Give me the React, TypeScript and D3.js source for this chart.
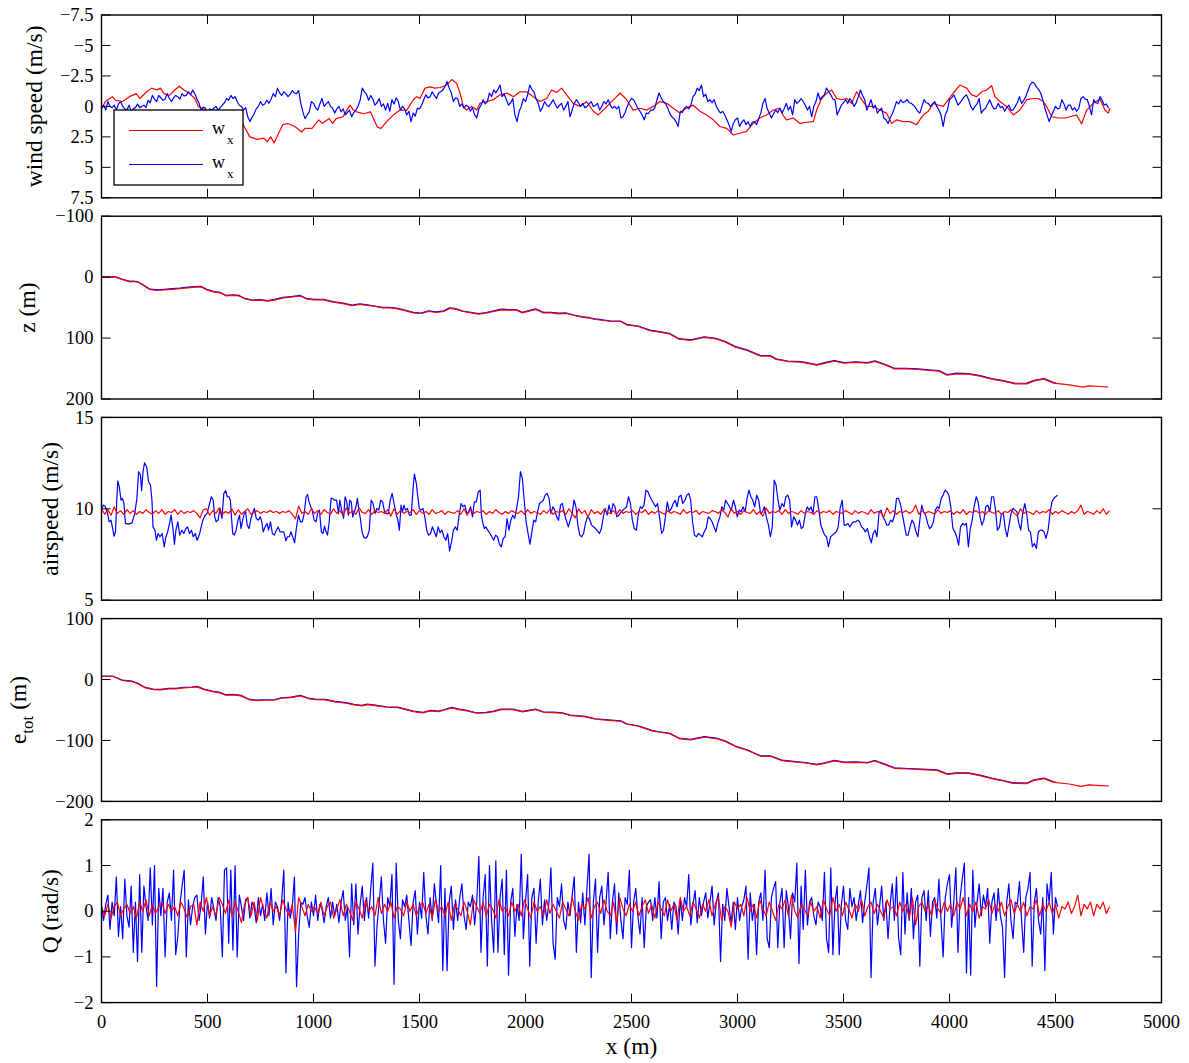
import React from 'react';
import * as d3 from 'd3';

type Pt = [number, number];

// ---------- axes ----------
const xTicks = [0, 500, 1000, 1500, 2000, 2500, 3000, 3500, 4000, 4500, 5000];
const windTicks = [-7.5, -5, -2.5, 0, 2.5, 5, 7.5];
const zTicks = [-100, 0, 100, 200];
const airTicks = [5, 10, 15];
const eTicks = [-200, -100, 0, 100];
const qTicks = [-2, -1, 0, 1, 2];

// ---------- wind speed (m/s) ----------
const windRed: Pt[] = [
  [2,0.15],[18,-0.4],[51,-0.8],[67,-0.5],[99,-0.4],[132,-0.8],[164,-1.05],[181,-0.65],[213,-1.2],[237,-1.5],
  [262,-1.35],[278,-1.5],[294,-1.05],[319,-0.9],[343,-1.3],[367,-1.65],[392,-1.3],[416,-1.05],[440,-0.65],[457,0],
  [489,0.3],[520,0.6],[580,0.9],[640,1.3],[668,1.5],[700,2.5],[733,2.7],[765,2.6],[782,2.9],[798,2.5],
  [814,3.0],[830,2.4],[855,1.5],[879,1.4],[912,1.65],[944,2.1],[960,1.8],[993,1.8],[1025,1.1],[1041,1.4],
  [1074,1.0],[1090,1.4],[1107,1.0],[1139,0.85],[1172,-0.1],[1188,0.3],[1204,0.45],[1236,0.6],[1269,0.45],[1301,1.7],
  [1318,1.8],[1345,1.25],[1377,0.7],[1408,0.3],[1440,0.3],[1471,-0.55],[1487,-0.8],[1502,-0.65],[1526,-1.5],[1550,-1.6],
  [1573,-1.5],[1597,-1.55],[1628,-1.75],[1652,-2.2],[1675,-1.9],[1691,-1.1],[1707,0],[1722,0.3],[1746,0],[1770,0.3],
  [1785,-0.25],[1817,-0.4],[1848,-0.55],[1880,-0.95],[1911,-1.1],[1943,-0.8],[1974,-1.2],[2005,-1.2],[2037,-0.8],[2068,-0.4],
  [2100,-0.65],[2123,-1.35],[2147,-1.15],[2170,-1.5],[2194,-0.95],[2225,-0.25],[2257,0],[2288,-0.4],[2320,0.4],[2343,0.7],
  [2367,0.3],[2398,-0.25],[2430,-0.8],[2446,-1.1],[2477,-0.55],[2508,0.3],[2540,0.15],[2571,0.3],[2603,0],[2634,-0.4],
  [2666,-0.25],[2697,0.15],[2728,0.55],[2744,0.3],[2776,0],[2791,-0.1],[2823,0.4],[2854,0.7],[2886,1.1],[2917,1.65],
  [2949,1.8],[2980,2.35],[3011,2.2],[3043,2.05],[3074,1.4],[3106,0.95],[3137,0.7],[3169,0.3],[3200,0.15],[3216,0.75],
  [3232,1.1],[3263,0.95],[3295,1.4],[3326,1.3],[3358,1.25],[3373,0.3],[3397,-0.65],[3421,-1.1],[3444,-1.35],[3468,-0.65],
  [3491,-0.55],[3515,-0.65],[3538,-0.25],[3562,-1.2],[3586,-0.55],[3609,0],[3641,0],[3672,0.3],[3703,0.55],[3727,1.4],
  [3751,1.1],[3782,1.25],[3813,1.25],[3845,1.5],[3876,0.7],[3900,0.4],[3924,-0.25],[3947,-0.1],[3971,0],[3994,-0.55],
  [4018,-1.1],[4049,-1.75],[4081,-1.5],[4104,-0.95],[4128,-0.8],[4152,-1.2],[4175,-1.35],[4199,-1.7],[4214,-0.8],[4238,-0.4],
  [4269,0],[4301,0.7],[4332,0.3],[4364,-0.55],[4395,-0.65],[4419,-0.65],[4442,-0.4],[4458,0],[4482,0.85],[4513,0.95],
  [4545,0.95],[4568,0.85],[4600,0.7],[4623,1.45],[4647,0.3],[4678,-0.25],[4710,-0.6],[4733,0.3],[4749,0.55],[4757,0.15],
];

// blue wind, sampled every 10 m
const windBlueStep = 10;
const windBlueValues = [
  0.15,-0.1,0.3,-0.4,0.0,0.1,-0.1,0.3,-0.2,-0.4,
  0.0,0.2,0.3,-0.1,0.4,0.2,0.1,-0.2,0.1,0.0,
  -0.1,0.1,-0.5,-0.3,-0.9,-0.6,-0.4,-0.9,-0.7,-0.5,
  -0.6,-1.05,-0.65,-0.4,-0.7,-0.9,-0.8,-0.6,-1.05,-0.85,
  -0.9,-1.2,-0.95,-1.35,-1.05,-0.6,-0.25,0.3,0.05,0.15,
  0.45,0.2,0.3,0.15,0.0,0.3,0.1,-0.1,-0.3,-0.65,
  -0.5,-0.9,-0.65,-0.8,-0.4,-0.1,0.0,0.3,0.1,0.85,
  1.25,0.9,0.6,0.2,0.0,-0.4,-0.1,-0.2,-0.5,-0.25,
  -0.6,-1.05,-0.8,-1.5,-1.1,-0.9,-1.2,-1.05,-0.8,-1.0,
  -1.3,-1.1,-1.05,-1.3,-0.25,0.45,1.0,0.7,0.45,-0.4,
  -0.25,0.1,0.3,-0.2,-0.65,0.0,-0.2,-0.4,0.0,0.15,
  0.55,0.2,0.0,0.45,0.2,0.7,0.5,0.3,0.85,0.5,
  0.3,0.0,-0.5,-1.5,-1.2,-1.0,-0.5,-0.9,-0.6,-0.1,
  -0.3,-0.65,0.0,-0.2,0.3,-0.25,0.4,-0.55,-0.2,-0.7,
  -0.4,0.3,0.0,0.2,0.7,0.4,1.25,0.55,0.8,0.15,
  0.2,-0.1,-0.55,-0.95,-0.7,-0.8,-1.2,-0.9,-0.65,-1.1,
  -1.2,-1.35,-1.6,-2.05,-1.5,-1.1,-0.4,-0.7,-0.65,0.0,
  -0.2,0.15,-0.1,0.0,0.4,0.1,0.7,0.95,0.2,-0.1,
  -0.55,-0.2,-0.4,-1.1,-0.8,-1.35,-1.1,-1.4,-1.75,-0.8,
  -1.0,-0.55,-0.1,-0.3,-0.65,0.7,1.25,0.4,0.0,-0.65,
  -0.4,-0.95,-1.75,-1.4,-1.2,-0.6,-0.25,0.4,0.1,-0.4,
  -0.1,0.0,-0.25,-0.55,-0.2,0.15,-0.1,-0.25,0.3,0.0,
  -0.4,0.85,0.3,-0.25,-0.55,-0.3,0.0,-0.25,0.1,0.0,
  -0.2,-0.4,0.0,-0.1,-0.25,0.3,0.0,-0.4,-0.2,-0.55,
  -0.1,0.15,0.0,0.2,0.0,0.95,0.85,0.5,0.0,-0.4,
  -0.65,-0.55,-0.2,0.15,0.4,0.7,1.1,0.55,0.6,0.3,
  0.3,0.15,-0.55,-1.1,-0.7,-0.4,-0.25,0.1,0.55,0.85,
  1.0,1.25,1.65,0.4,0.5,0.15,0.0,0.2,-0.1,-0.8,
  -1.0,-1.5,-1.3,-1.75,-0.8,-1.0,-0.4,-0.55,-0.3,-0.55,
  0.0,0.3,0.55,0.4,0.7,1.1,1.5,2.05,1.4,1.1,
  0.95,1.65,1.3,1.1,1.5,1.25,1.65,1.3,1.25,1.5,
  1.0,0.55,-0.25,-0.65,0.2,0.55,0.95,0.6,0.3,0.5,
  0.15,0.55,0.2,-0.25,0.3,0.0,0.7,-0.55,-0.25,-0.4,
  -0.65,-0.4,-0.1,0.3,0.0,0.85,0.0,-0.4,-1.1,-0.55,
  -0.8,-0.95,-1.5,-1.2,-0.95,-0.6,-0.55,0.7,0.3,-0.1,
  -0.3,-0.55,-0.25,-0.65,-0.4,0.0,-0.3,-0.8,-1.35,-0.9,
  -0.55,0.3,-0.1,-0.55,0.15,-0.1,0.55,0.3,0.15,0.95,
  1.1,1.4,0.95,0.6,0.15,-0.4,-0.2,-0.55,-0.3,-0.4,
  -0.55,-0.3,-0.25,-0.1,0.1,0.4,0.55,0.0,-0.55,-0.3,
  -0.25,0.0,-0.2,-0.4,0.0,0.3,0.7,1.65,0.7,0.3,
  -0.55,-0.7,-0.95,-0.55,-0.1,-0.3,-0.55,-0.8,-0.95,-0.55,
  0.0,0.3,0.0,-0.2,-0.65,0.55,0.3,0.15,-0.2,-0.55,
  -0.1,0.2,0.15,-0.25,0.1,0.0,0.4,0.1,-0.1,0.3,
  0.3,0.0,-0.3,-0.8,-0.25,-0.5,-0.8,-1.3,-1.75,-2.0,
  -1.9,-1.6,-1.4,-1.1,-0.55,0.15,0.7,1.25,0.8,0.4,
  0.0,0.2,0.15,-0.55,-0.2,0.3,-0.1,-0.1,0.3,0.1,
  0.4,0.15,-0.65,-0.8,-0.6,-0.55,0.0,0.7,-0.55,-0.3,
  -0.25,-0.8,-0.5,-0.1,-0.2,0.15,
];

// ---------- altitude z (m) ----------
const zRed: Pt[] = [
  [0,0],[45,0],[63,-0.5],[99,4],[135,7.7],[144,7.2],[171,8],[198,13.7],[225,20],[261,21.9],
  [297,21],[333,20],[370,19],[406,17.5],[442,16.4],[469,16],[496,20.8],[532,24.6],[559,25.7],[586,30.6],
  [622,30],[649,31],[676,35.6],[712,38.3],[748,37.8],[785,39.4],[821,37.2],[857,34],[893,32.8],[938,31],
  [965,35.6],[1001,37.2],[1046,37.2],[1092,41],[1146,43.8],[1182,47],[1218,44.9],[1254,46.5],[1290,48.2],[1326,50.4],
  [1362,50.4],[1398,52],[1435,55.3],[1471,58.6],[1507,59.7],[1543,56.4],[1579,58],[1615,56.4],[1642,51.5],[1669,52.5],
  [1705,56.4],[1742,58.6],[1778,60.8],[1814,59],[1850,56.4],[1886,53.6],[1922,54.2],[1958,54.2],[1985,58.6],[2012,56.4],
  [2048,53],[2084,58.6],[2120,58.6],[2156,60.2],[2193,59.7],[2229,63],[2265,65.5],[2301,67.5],[2330,69.5],[2404,72.8],
  [2449,72.8],[2477,78.3],[2532,81],[2587,88],[2633,90.3],[2678,93],[2724,101.8],[2779,104],[2843,99],[2898,101.3],
  [2944,106.7],[2990,115],[3045,120.4],[3109,129.7],[3155,129.7],[3182,135],[3237,138.5],[3301,139.6],[3374,144.5],[3420,140.7],
  [3457,138],[3503,141.2],[3558,140],[3613,141.2],[3649,138.5],[3695,144],[3741,150.5],[3796,150.5],[3851,151.6],[3915,153.3],
  [3951,154.3],[3988,161],[4034,158.7],[4089,159.3],[4144,162.6],[4199,167.5],[4254,170.8],[4309,175.1],[4364,175.1],[4400,170.2],
  [4446,167.5],[4492,174],[4565,176.8],[4629,180.6],[4657,178.4],[4712,179.5],[4749,180.6],
];

const zBlue: Pt[] = [
  [0,-0.5],[45,-0.5],[63,-1],[99,3.5],[135,7],[144,6.5],[171,7.5],[198,13],[225,19.2],[261,21],
  [297,20],[333,18.8],[370,18],[406,16.5],[442,15.5],[469,15],[496,20],[532,23.8],[559,24.8],[586,29.8],
  [622,29],[649,30],[676,35],[712,37.5],[748,37],[785,38.6],[821,36.2],[857,33],[893,31.8],[938,30],
  [965,34.8],[1001,36.4],[1046,36.5],[1092,40.2],[1146,43],[1182,46],[1218,43.8],[1254,45.5],[1290,47.4],[1326,49.6],
  [1362,49.5],[1398,51.2],[1435,54.5],[1471,57.8],[1507,59],[1543,55.4],[1579,57],[1615,55.4],[1642,50.5],[1669,51.6],
  [1705,55.6],[1742,57.8],[1778,60],[1814,58],[1850,55.4],[1886,52.6],[1922,53.2],[1958,53.4],[1985,57.8],[2012,55.4],
  [2048,52],[2084,57.8],[2120,57.8],[2156,59.2],[2193,58.8],[2229,62.2],[2265,64.6],[2301,66.6],[2330,68.6],[2404,72],
  [2449,72],[2477,77.4],[2532,80.2],[2587,87],[2633,89.4],[2678,92.2],[2724,101],[2779,103],[2843,97.8],[2898,100.4],
  [2944,105.8],[2990,114],[3045,119.4],[3109,128.6],[3155,128.6],[3182,134],[3237,137.6],[3301,138.6],[3374,143.5],[3420,139.6],
  [3457,137],[3503,140.2],[3558,139],[3613,140.2],[3649,137.4],[3695,143],[3741,149.6],[3796,149.5],[3851,150.6],[3915,152.4],
  [3951,153.3],[3988,160],[4034,157.6],[4089,158.4],[4144,161.6],[4199,166.6],[4254,169.8],[4309,174.2],[4364,174],[4400,169.2],
  [4446,166.5],[4492,173],[4501,173.5],
];

// ---------- airspeed (m/s) ----------
const airRedStep = 15;
const airRedValues = [
  10.0,9.7,9.95,9.65,10.1,9.75,9.9,9.7,9.95,9.75,
  9.9,9.7,9.85,9.75,9.95,9.8,9.7,9.9,9.75,9.95,
  9.7,9.85,9.8,9.95,9.7,9.9,9.75,9.85,9.8,9.9,
  9.75,9.5,9.95,10.0,9.65,9.9,9.75,10.05,9.7,9.85,
  9.75,10.0,9.65,9.95,9.7,9.85,10.0,9.7,9.8,9.9,
  9.75,9.85,9.8,9.9,9.8,9.85,9.75,9.85,9.8,9.9,
  9.7,9.45,10.15,9.75,9.85,9.7,10.0,9.75,9.9,9.7,
  9.95,9.8,9.7,10.0,9.75,9.9,9.65,10.05,9.75,9.9,
  9.7,10.05,9.8,9.75,9.95,9.7,9.9,9.8,9.85,9.75,
  9.95,9.6,10.0,9.7,9.9,9.75,9.85,9.8,9.95,9.7,
  9.9,9.75,9.85,9.7,9.95,9.75,9.8,9.9,9.7,9.85,
  9.8,9.75,9.9,9.7,10.0,9.65,9.95,9.75,9.85,9.8,
  9.9,9.7,9.85,9.75,9.95,9.8,9.7,9.85,9.75,9.9,
  9.8,9.75,9.9,9.7,9.95,9.75,9.85,9.8,9.7,9.9,
  9.75,9.95,9.7,9.85,9.8,9.9,9.7,10.0,9.75,9.5,
  10.0,9.75,9.9,9.55,9.95,9.75,9.85,9.7,9.95,9.8,
  9.75,9.9,9.7,9.95,9.75,9.85,9.8,9.9,9.7,9.85,
  9.8,9.95,9.7,9.85,9.75,9.9,9.8,9.7,9.9,9.75,
  9.85,9.8,9.7,9.95,9.75,9.85,9.8,9.9,9.7,9.85,
  9.8,9.75,9.9,9.85,9.75,9.95,9.8,9.55,10.0,9.75,
  9.85,9.7,9.9,9.8,9.75,9.95,9.7,9.85,9.6,10.05,
  9.75,9.85,9.8,9.9,9.7,9.95,9.75,9.85,9.8,9.7,
  9.9,9.75,9.85,9.8,9.7,9.9,9.75,9.85,9.8,9.9,
  9.7,9.85,9.8,9.75,9.9,9.8,9.7,9.9,9.75,9.85,
  9.8,9.7,9.95,9.75,9.85,9.8,9.55,10.05,9.75,9.9,
  9.7,9.85,9.8,9.9,9.75,9.85,10.2,9.7,9.9,9.75,
  9.85,9.8,9.7,9.95,9.75,9.85,9.8,9.9,9.7,9.85,
  9.75,9.95,9.7,9.85,9.8,9.9,9.75,9.85,9.7,9.9,
  9.8,9.75,9.9,9.7,9.85,9.8,9.95,9.75,9.6,10.0,
  9.75,9.85,9.8,9.7,9.9,9.75,9.85,9.8,9.95,9.7,
  9.85,9.75,9.9,9.8,9.7,9.85,9.75,9.9,10.2,9.7,
  9.85,9.8,9.7,9.9,9.75,10.0,9.7,9.9,
];

const airBlue: Pt[] = [
  [0,10.02],[9,10.2],[18,10.11],[27,9.84],[36,9.29],[45,9.38],[54,8.83],[59,8.5],[66,8.74],[72,10.47],
  [77,11.53],[84,11.2],[92,10.47],[99,10.57],[106,10.29],[113,9.2],[126,9.16],[144,9.23],[157,9.74],[167,10.57],
  [175,12.03],[184,11.84],[189,10.99],[196,12.03],[203,12.52],[213,12.3],[222,11.48],[231,11.3],[238,10.47],[243,9.01],
  [252,8.83],[259,8.28],[267,8.65],[276,8.47],[286,8.65],[296,7.92],[303,8.43],[312,8.74],[321,9.2],[328,9.65],
  [337,8.92],[344,8.07],[351,8.83],[360,9.29],[369,8.56],[379,8.83],[388,8.65],[398,8.92],[406,9.01],[415,8.65],
  [424,8.83],[433,8.47],[442,8.65],[451,8.28],[458,8.47],[465,8.74],[470,9.01],[478,9.38],[489,9.65],[498,9.74],
  [510,10.29],[518,10.66],[527,10.47],[534,9.56],[541,9.29],[550,9.38],[559,10.02],[568,9.47],[577,10.84],[586,10.99],
  [593,10.66],[601,10.66],[608,10.47],[613,9.56],[619,8.65],[626,8.56],[635,8.83],[644,9.38],[651,9.65],[658,8.92],
  [666,9.38],[673,9.74],[680,9.84],[687,9.11],[696,8.92],[705,9.47],[712,9.74],[721,10.02],[730,9.47],[740,9.38],
  [749,9.56],[756,9.29],[763,8.74],[772,9.01],[781,9.2],[788,8.83],[797,9.29],[806,8.65],[815,8.56],[824,8.8],
  [833,9.01],[842,8.74],[851,8.74],[860,8.74],[870,8.25],[877,8.47],[886,8.47],[893,8.74],[902,8.47],[911,8.14],
  [920,9.01],[929,9.65],[938,9.29],[947,9.29],[956,9.74],[965,10.66],[972,10.78],[979,10.38],[987,10.11],[994,9.93],
  [1003,9.38],[1012,9.29],[1019,9.74],[1028,9.93],[1037,8.74],[1045,8.65],[1052,9.05],[1059,8.74],[1066,8.56],[1074,9.29],
  [1083,10.57],[1090,10.57],[1099,10.47],[1109,10.47],[1118,9.74],[1124,10.47],[1133,9.93],[1142,9.47],[1149,10.66],[1157,10.38],
  [1164,9.65],[1171,10.47],[1178,10.38],[1185,9.56],[1193,9.84],[1200,10.11],[1207,10.57],[1214,9.93],[1221,9.47],[1229,8.74],
  [1238,8.43],[1245,8.38],[1254,8.47],[1263,8.83],[1272,10.47],[1281,10.29],[1290,9.74],[1299,10.02],[1308,9.93],[1317,10.47],
  [1326,10.38],[1335,9.84],[1344,9.74],[1353,9.74],[1362,10.47],[1371,10.84],[1380,10.29],[1389,9.74],[1398,9.38],[1405,8.83],
  [1413,10.2],[1420,9.84],[1427,10.2],[1434,9.93],[1443,10.02],[1452,9.65],[1461,9.65],[1471,11.3],[1476,11.9],[1485,11.39],
  [1492,10.66],[1499,10.02],[1507,9.93],[1516,10.02],[1525,9.56],[1534,8.83],[1543,8.56],[1552,8.65],[1561,9.01],[1570,8.74],
  [1579,8.47],[1588,9.01],[1597,8.69],[1606,8.83],[1615,8.47],[1624,8.28],[1633,8.65],[1642,7.7],[1651,8.19],[1660,8.83],
  [1669,9.01],[1678,8.83],[1687,9.65],[1696,10.29],[1705,10.11],[1714,10.2],[1723,9.74],[1732,9.84],[1741,10.11],[1750,9.56],
  [1759,10.38],[1768,10.38],[1777,10.93],[1786,11.02],[1792,9.65],[1799,9.2],[1806,8.92],[1813,9.01],[1822,8.83],[1832,8.65],
  [1840,8.5],[1850,8.28],[1859,8.56],[1868,8.47],[1877,8.07],[1886,7.92],[1895,8.38],[1904,8.47],[1913,9.47],[1922,8.83],
  [1931,9.38],[1940,9.65],[1949,9.47],[1958,10.02],[1967,10.66],[1976,12.03],[1985,11.66],[1994,10.47],[2003,9.29],[2012,8.65],
  [2021,8.07],[2030,8.74],[2039,9.38],[2048,9.29],[2057,9.84],[2066,10.29],[2075,10.38],[2084,10.47],[2093,10.75],[2102,10.84],
  [2111,10.57],[2120,9.74],[2129,10.11],[2138,9.93],[2147,9.56],[2156,9.38],[2165,10.2],[2174,10.29],[2183,9.74],[2192,9.38],
  [2202,9.01],[2211,9.38],[2220,9.74],[2229,10.47],[2238,10.11],[2247,9.11],[2256,8.56],[2265,8.47],[2274,8.65],[2283,9.2],
  [2292,9.56],[2301,9.47],[2312,9.11],[2330,8.92],[2349,8.65],[2358,8.92],[2367,9.56],[2376,10.02],[2385,9.65],[2394,10.2],
  [2404,9.74],[2413,10.29],[2422,10.11],[2431,9.56],[2440,9.65],[2459,9.93],[2477,10.11],[2486,10.66],[2495,10.29],[2504,9.38],
  [2513,8.92],[2523,8.83],[2532,9.65],[2541,10.11],[2550,10.02],[2559,10.2],[2568,11.02],[2578,10.93],[2587,10.66],[2596,10.47],
  [2605,10.29],[2614,10.11],[2623,10.29],[2633,9.47],[2642,8.65],[2651,8.83],[2660,9.56],[2669,10.38],[2678,9.84],[2688,10.02],
  [2697,10.29],[2706,10.47],[2715,10.11],[2724,10.66],[2733,10.75],[2742,10.29],[2752,10.47],[2761,10.75],[2770,10.84],[2779,10.47],
  [2788,9.29],[2797,8.56],[2807,8.47],[2816,8.65],[2825,8.56],[2834,8.47],[2843,8.74],[2852,8.92],[2862,9.56],[2871,9.47],
  [2880,9.29],[2889,9.01],[2898,8.74],[2907,9.2],[2917,9.56],[2926,10.11],[2935,9.93],[2944,10.47],[2953,10.29],[2962,10.11],
  [2971,9.93],[2981,10.47],[2990,10.11],[2999,9.56],[3008,9.93],[3017,9.84],[3026,10.11],[3036,9.84],[3045,10.57],[3054,11.02],
  [3063,10.66],[3072,10.47],[3081,10.11],[3091,10.75],[3100,10.47],[3109,9.74],[3118,9.84],[3127,10.11],[3136,9.56],[3146,9.11],
  [3155,8.47],[3164,9.01],[3173,11.57],[3182,11.3],[3191,10.47],[3200,9.93],[3210,10.29],[3219,10.11],[3228,10.66],[3237,10.75],
  [3246,10.47],[3255,9.01],[3265,9.56],[3274,9.38],[3283,9.11],[3292,9.38],[3301,8.92],[3310,9.01],[3320,9.74],[3329,10.11],
  [3338,9.93],[3347,10.11],[3356,9.74],[3365,10.66],[3374,10.66],[3384,9.93],[3393,9.11],[3402,8.83],[3411,8.56],[3420,8.47],
  [3429,7.92],[3439,8.47],[3448,8.56],[3457,8.65],[3466,8.74],[3475,9.01],[3484,10.02],[3494,10.47],[3503,9.11],[3512,9.11],
  [3521,9.2],[3530,9.01],[3539,9.2],[3549,9.29],[3558,9.29],[3567,9.38],[3576,9.29],[3585,9.01],[3594,8.92],[3603,8.74],
  [3613,8.92],[3622,8.47],[3631,8.14],[3640,8.65],[3649,8.83],[3658,8.47],[3668,9.84],[3677,9.93],[3686,9.56],[3695,9.38],
  [3704,9.11],[3713,9.11],[3722,9.38],[3731,9.29],[3741,9.65],[3750,10.57],[3759,10.57],[3768,10.29],[3777,9.74],[3787,9.11],
  [3796,8.56],[3805,8.56],[3814,9.01],[3823,9.38],[3832,9.2],[3842,8.74],[3851,8.47],[3860,9.38],[3869,10.2],[3878,9.84],
  [3887,9.65],[3897,9.2],[3906,8.92],[3915,9.01],[3924,9.29],[3933,9.93],[3942,10.11],[3951,10.02],[3961,10.57],[3970,10.75],
  [3979,11.02],[3988,10.93],[3997,10.75],[4006,10.11],[4016,8.92],[4025,8.74],[4034,8.47],[4043,8.01],[4052,9.01],[4062,9.2],
  [4071,9.11],[4080,9.2],[4089,7.92],[4098,8.92],[4107,9.38],[4116,10.11],[4126,10.66],[4135,10.38],[4144,9.56],[4153,9.11],
  [4162,9.38],[4171,10.11],[4181,10.2],[4190,9.84],[4199,10.66],[4208,10.66],[4217,9.93],[4226,8.83],[4236,9.01],[4245,9.74],
  [4254,9.74],[4263,8.92],[4272,8.47],[4281,9.11],[4290,9.74],[4300,10.02],[4309,9.93],[4318,9.84],[4327,9.2],[4336,8.83],
  [4345,9.74],[4355,10.29],[4364,9.74],[4373,8.83],[4382,8.74],[4391,7.92],[4400,8.1],[4410,7.83],[4419,8.74],[4428,8.83],
  [4437,8.83],[4446,8.74],[4455,8.38],[4465,8.83],[4474,9.74],[4483,10.38],[4492,10.57],[4501,10.66],[4510,10.75],
];

// ---------- total energy e_tot (m) ----------
const eRed: Pt[] = [
  [0,5],[54,5],[99,-1.6],[144,-3.3],[171,-7],[207,-13.7],[243,-16.4],[279,-17],[315,-15.3],[351,-15.3],
  [388,-13.7],[424,-13.1],[451,-12],[487,-17],[523,-19.7],[559,-21.9],[586,-25.7],[622,-25.2],[658,-26.8],[694,-32.9],
  [730,-34.5],[767,-34],[812,-34],[848,-30.7],[893,-29.6],[938,-26.8],[974,-31.2],[1010,-32.9],[1055,-33.4],[1101,-36.7],
  [1155,-38.9],[1191,-41.6],[1227,-43.3],[1254,-41.1],[1299,-43.3],[1344,-45.5],[1398,-46],[1435,-49.3],[1471,-52.6],[1516,-54.8],
  [1552,-51.5],[1588,-52.6],[1615,-50.4],[1651,-46.5],[1687,-49.3],[1723,-51.5],[1768,-55.3],[1814,-54.8],[1850,-52.6],[1886,-49.3],
  [1940,-49.3],[1985,-53.1],[2012,-51.5],[2048,-49.3],[2084,-53.7],[2129,-54.2],[2174,-55.3],[2211,-59.1],[2247,-60.2],[2283,-61.3],
  [2330,-65.2],[2404,-67.4],[2449,-68.5],[2477,-73.4],[2532,-76.7],[2596,-84.3],[2633,-86.5],[2678,-88.7],[2724,-96.9],[2779,-99.1],
  [2843,-94.7],[2907,-97.5],[2944,-101.9],[2990,-110],[3045,-116],[3109,-126],[3155,-126],[3210,-133],[3265,-135],[3320,-137],
  [3374,-140],[3411,-137.5],[3457,-133.6],[3503,-136.4],[3558,-135.8],[3613,-137],[3649,-133.6],[3695,-139.6],[3741,-145.7],[3805,-146.8],
  [3869,-147.9],[3942,-149],[3988,-155.5],[4034,-153.9],[4089,-153.9],[4144,-157.7],[4199,-162.6],[4254,-166.5],[4300,-170.3],[4364,-170.8],
  [4400,-165.4],[4446,-162.6],[4492,-168.7],[4565,-171.4],[4620,-175.2],[4657,-173],[4712,-174.1],[4752,-174.7],
];

const eBlue: Pt[] = [
  [0,5.5],[54,5.5],[99,-1],[144,-2.6],[171,-6.3],[207,-13],[243,-15.6],[279,-16.2],[315,-14.5],[351,-14.5],
  [388,-12.9],[424,-12.3],[451,-11.2],[487,-16.2],[523,-18.9],[559,-21.1],[586,-24.9],[622,-24.4],[658,-26],[694,-32],
  [730,-33.7],[767,-33.2],[812,-33.2],[848,-29.9],[893,-28.8],[938,-26],[974,-30.4],[1010,-32],[1055,-32.6],[1101,-35.9],
  [1155,-38],[1191,-40.8],[1227,-42.5],[1254,-40.3],[1299,-42.5],[1344,-44.7],[1398,-45.2],[1435,-48.5],[1471,-51.8],[1516,-54],
  [1552,-50.6],[1588,-51.8],[1615,-49.6],[1651,-45.6],[1687,-48.5],[1723,-50.7],[1768,-54.5],[1814,-54],[1850,-51.8],[1886,-48.4],
  [1940,-48.5],[1985,-52.3],[2012,-50.7],[2048,-48.4],[2084,-52.9],[2129,-53.4],[2174,-54.5],[2211,-58.3],[2247,-59.4],[2283,-60.5],
  [2330,-64.4],[2404,-66.6],[2449,-67.7],[2477,-72.6],[2532,-75.9],[2596,-83.5],[2633,-85.7],[2678,-87.9],[2724,-96],[2779,-98.2],
  [2843,-93.8],[2907,-96.7],[2944,-101],[2990,-109.2],[3045,-115.2],[3109,-125.2],[3155,-125.2],[3210,-132.2],[3265,-134.2],[3320,-136.2],
  [3374,-139.2],[3411,-136.6],[3457,-132.7],[3503,-135.6],[3558,-135],[3613,-136.2],[3649,-132.8],[3695,-138.8],[3741,-144.9],[3805,-146],
  [3869,-147.1],[3942,-148.2],[3988,-154.7],[4034,-153.1],[4089,-153.1],[4144,-156.9],[4199,-161.8],[4254,-165.7],[4300,-169.5],[4364,-170],
  [4400,-164.6],[4446,-161.8],[4492,-167.9],[4501,-168.2],
];

// ---------- pitch rate Q (rad/s) ----------
const qRedStep = 15;
const qRedValues = [
  0.1,-0.1,0.15,-0.15,0.1,0.2,-0.1,0.05,0.15,-0.05,
  0.1,-0.15,0.2,0.0,0.25,-0.1,0.15,-0.05,0.1,0.2,
  -0.05,0.15,0.0,0.1,-0.1,0.2,0.05,-0.15,0.1,0.15,
  -0.3,0.2,0.0,0.3,-0.1,0.1,-0.1,0.3,0.15,-0.05,
  0.25,-0.1,0.2,0.0,-0.25,0.15,0.3,-0.1,0.2,-0.2,
  0.3,0.05,-0.15,0.2,0.0,0.1,-0.1,0.25,0.05,-0.1,
  0.15,-0.45,0.3,0.1,-0.1,0.15,0.0,0.1,-0.05,0.2,
  -0.1,0.1,0.2,-0.15,0.05,0.25,-0.1,0.15,0.0,-0.2,
  0.2,0.05,-0.15,0.25,0.0,0.1,-0.1,0.3,-0.05,0.15,
  0.0,0.2,-0.15,0.1,0.05,-0.1,0.2,0.0,0.15,-0.1,
  0.1,0.2,-0.05,0.15,-0.15,0.25,0.0,0.1,-0.1,0.2,
  -0.2,0.15,0.05,-0.1,0.2,0.0,-0.3,0.25,0.1,-0.05,
  0.2,-0.1,0.15,0.05,-0.15,0.25,0.0,0.1,-0.1,0.2,
  0.0,0.15,-0.1,0.25,0.05,-0.15,0.2,0.0,0.1,-0.1,
  0.25,-0.05,0.15,0.0,-0.15,0.2,0.05,-0.1,0.3,0.0,
  -0.2,0.15,0.05,0.3,-0.15,0.1,0.2,-0.05,0.25,0.0,
  -0.1,0.2,-0.25,0.3,0.05,-0.1,0.15,0.0,0.2,-0.1,
  0.1,0.25,-0.05,0.15,-0.15,0.2,0.05,-0.1,0.25,0.0,
  0.15,-0.2,0.3,0.0,0.1,-0.1,0.2,0.05,-0.15,0.15,
  0.0,0.25,-0.1,0.15,0.3,-0.2,0.1,0.0,-0.35,0.2,
  0.05,0.15,-0.1,0.3,0.0,0.15,-0.15,0.25,0.05,-0.1,
  0.2,0.0,-0.2,0.15,0.05,0.25,-0.1,0.35,0.0,-0.15,
  0.15,0.05,-0.1,0.2,0.0,0.1,-0.15,0.25,0.05,-0.1,
  0.3,0.0,0.15,-0.1,0.2,0.05,-0.15,0.15,0.0,0.25,
  -0.1,0.1,0.2,-0.05,0.15,0.0,-0.15,0.25,0.05,0.1,
  -0.1,0.2,0.0,0.15,-0.15,0.3,-0.3,0.1,0.2,0.0,
  0.15,-0.1,0.25,0.05,-0.05,0.2,0.0,0.15,-0.1,0.2,
  0.05,0.3,-0.1,0.15,0.0,0.2,-0.15,0.1,0.05,0.25,
  -0.05,0.15,0.0,0.2,-0.1,0.1,0.25,-0.05,0.15,0.0,
  0.2,-0.1,0.1,0.05,0.25,-0.1,0.15,0.0,0.2,-0.05,
  0.15,-0.15,0.1,0.05,0.2,-0.05,0.1,0.35,-0.1,0.15,
  0.05,0.2,-0.1,0.15,0.05,0.2,-0.05,0.1,
];

const qBlueStep = 10;
const qBlueValues = [
  0.1,-0.2,0.15,0.35,-0.4,0.2,-0.1,0.75,-0.55,0.1,
  -0.6,0.7,-0.1,-0.35,0.55,-0.9,0.2,-1.1,0.8,-0.9,
  0.55,0.1,-0.2,0.95,-0.3,1.0,-1.65,0.5,-0.1,0.5,
  -1.0,0.2,0.4,-0.2,0.9,-0.95,-0.55,0.15,0.55,0.9,
  -1.0,0.25,-0.3,0.1,0.3,0.35,-0.2,0.15,0.75,-0.5,
  0.2,-0.15,0.3,0.05,-0.2,0.3,0.1,-1.0,0.9,0.95,
  -0.7,0.9,-0.85,1.0,-1.0,0.35,0.1,-0.2,0.25,0.3,
  -0.15,0.2,0.1,-0.25,0.3,-0.1,0.15,-0.2,0.4,-0.1,
  0.5,-0.3,0.2,0.1,-0.2,0.25,0.9,-1.35,0.2,-0.15,
  0.1,0.75,-1.65,-0.5,0.2,0.15,0.3,-0.1,-0.35,0.2,
  -0.1,0.35,-0.2,0.15,0.05,-0.25,0.1,0.3,-0.15,0.2,
  -0.1,0.15,-0.25,0.2,0.45,-0.2,0.1,-1.0,0.6,-0.3,
  0.6,-0.5,0.15,0.55,-0.2,0.3,-0.15,0.5,1.05,-1.2,
  -0.3,0.2,0.75,-0.2,-0.7,0.3,0.1,0.8,-1.6,1.05,
  -0.2,-0.6,0.25,0.1,0.35,-0.2,-0.75,0.2,0.45,-0.5,
  0.2,-0.15,0.85,-0.1,-0.5,0.3,-0.2,0.6,0.15,-0.25,
  1.0,-1.3,0.5,-1.3,0.2,0.55,-0.4,0.25,-0.2,0.3,
  0.6,-0.1,-0.4,0.2,0.1,0.35,-0.3,0.2,1.2,-0.9,
  0.3,0.8,-1.2,1.0,-0.2,-0.9,1.1,-0.9,0.3,0.7,
  -0.95,0.9,-1.4,0.2,0.5,-0.55,0.15,-0.2,1.25,-0.6,
  0.2,0.8,-1.2,0.3,0.5,-0.7,0.2,0.7,-0.3,0.25,
  -0.2,0.15,0.95,-0.7,-1.05,0.3,0.1,0.6,-0.2,-0.4,
  0.2,-0.1,0.35,0.75,-0.9,0.2,-0.25,0.4,-0.3,0.5,
  1.25,-1.45,0.2,0.7,-0.9,0.3,0.55,-0.3,0.2,0.85,
  -0.6,0.2,0.6,-0.5,0.4,-0.2,-0.6,0.3,0.15,0.9,
  -0.8,0.2,0.5,-0.1,-0.5,0.3,-0.8,0.1,0.2,0.25,
  -0.2,0.3,-0.15,0.65,-0.6,0.2,0.3,-0.2,0.15,-0.4,
  0.2,0.1,-0.5,0.25,-0.2,0.3,0.1,0.8,-0.3,0.15,
  0.45,-0.25,0.3,-0.1,0.2,0.4,-0.15,0.2,0.55,-0.3,
  0.2,0.4,-1.1,0.15,-0.2,0.5,0.1,-0.25,0.2,-0.4,
  0.3,-0.2,0.1,0.25,0.55,-1.05,0.4,-0.2,0.15,-0.95,
  0.2,0.4,-0.2,0.9,-0.6,-0.8,0.3,0.5,0.65,-0.8,
  0.2,0.5,-0.8,0.45,0.1,-0.6,0.4,0.2,1.05,-1.15,
  0.55,-0.4,0.9,-0.3,0.2,0.3,-0.1,-0.3,0.2,0.1,
  -0.2,0.85,-0.6,-0.9,0.95,-0.95,0.2,0.55,-0.95,0.15,
  0.55,-0.2,-0.4,0.5,0.1,0.3,-0.2,0.15,0.45,-0.25,
  0.2,0.55,0.95,-1.45,0.2,0.5,-0.3,0.1,0.55,-0.2,
  0.2,-0.6,0.15,0.6,-0.2,0.75,-0.6,-0.95,0.85,-0.5,
  0.4,-0.2,0.5,-0.6,0.2,0.35,-1.2,0.3,0.45,-0.2,
  0.45,-0.55,0.2,0.3,-0.15,0.7,-0.2,-1.0,0.3,0.6,
  0.8,-0.35,0.2,0.95,-0.9,0.3,0.7,1.05,-1.35,0.3,
  -1.4,0.9,-0.35,0.2,0.6,-0.1,0.35,0.1,0.5,-0.7,
  0.2,0.4,-0.2,0.5,-0.1,-0.35,-1.45,0.2,0.6,-0.2,
  -0.6,0.2,0.15,0.65,-0.2,-0.9,0.3,0.5,0.85,-1.2,
  0.2,0.5,-0.2,-0.5,0.3,-1.3,0.6,0.2,0.85,-0.5,
  0.3,0.1,
];

const windBlue: Pt[] = windBlueValues.map((v, i) => [i * windBlueStep, v]);
const airRed: Pt[] = airRedValues.map((v, i) => [i * airRedStep, v]);
const qRed: Pt[] = qRedValues.map((v, i) => [i * qRedStep, v]);
const qBlue: Pt[] = qBlueValues.map((v, i) => [i * qBlueStep, v]);

// ---------- layout ----------
const W = 1189;
const H = 1063;
const plotLeft = 101.5;
const plotRight = 1161.5;
const panelTop0 = 15;
const panelStep = 201.2;
const panelH = 182.8;
const tickLen = 9;
const RED = '#ff0000';
const BLUE = '#0000ff';
const FONT = '"Liberation Serif", "Times New Roman", Times, serif';
const tickFont = 18.5;
const labelFont = 23.5;

const fmt = (v: number) => (v < 0 ? '\u2212' + Math.abs(v) : String(v));

type Series = { data: Pt[]; color: string };
type Panel = {
  key: string;
  domain: [number, number];
  invert: boolean;
  ticks: number[];
  series: Series[];
  labelX: number;
  label: React.ReactNode;
};

const panels: Panel[] = [
  {
    key: 'wind', domain: [-7.5, 7.5], invert: true, ticks: windTicks,
    series: [{ data: windRed, color: RED }, { data: windBlue, color: BLUE }],
    labelX: 41.5, label: 'wind speed (m/s)',
  },
  {
    key: 'z', domain: [-100, 200], invert: true, ticks: zTicks,
    series: [{ data: zBlue, color: BLUE }, { data: zRed, color: RED }],
    labelX: 35, label: 'z (m)',
  },
  {
    key: 'air', domain: [5, 15], invert: false, ticks: airTicks,
    series: [{ data: airBlue, color: BLUE }, { data: airRed, color: RED }],
    labelX: 57.5, label: 'airspeed (m/s)',
  },
  {
    key: 'e', domain: [-200, 100], invert: false, ticks: eTicks,
    series: [{ data: eBlue, color: BLUE }, { data: eRed, color: RED }],
    labelX: 25.5,
    label: (
      <>
        <tspan>e</tspan>
        <tspan dy={7} fontSize={17}>tot</tspan>
        <tspan dy={-7}> (m)</tspan>
      </>
    ),
  },
  {
    key: 'q', domain: [-2, 2], invert: false, ticks: qTicks,
    series: [{ data: qBlue, color: BLUE }, { data: qRed, color: RED }],
    labelX: 57.5, label: 'Q (rad/s)',
  },
];

const x = d3.scaleLinear().domain([0, 5000]).range([plotLeft, plotRight]);

function PanelView({ p, idx }: { p: Panel; idx: number }) {
  const top = panelTop0 + idx * panelStep;
  const bottom = top + panelH;
  const y = d3
    .scaleLinear()
    .domain(p.domain)
    .range(p.invert ? [top, bottom] : [bottom, top]);
  const line = d3
    .line<Pt>()
    .x((d) => x(d[0]))
    .y((d) => y(d[1]));
  const clipId = `clip-${p.key}`;
  const isLast = idx === panels.length - 1;
  const midY = (top + bottom) / 2;
  return (
    <g>
      <defs>
        <clipPath id={clipId}>
          <rect x={plotLeft} y={top} width={plotRight - plotLeft} height={panelH} />
        </clipPath>
      </defs>
      <g clipPath={`url(#${clipId})`}>
        {p.series.map((s, i) => (
          <path key={i} d={line(s.data) || ''} fill="none" stroke={s.color} strokeWidth={1.2} strokeLinejoin="round" />
        ))}
      </g>
      {/* x ticks on top and bottom edges */}
      {xTicks.map((t) => (
        <g key={`xt${t}`} stroke="#000" strokeWidth={1}>
          <line x1={x(t)} x2={x(t)} y1={bottom} y2={bottom - tickLen} />
          <line x1={x(t)} x2={x(t)} y1={top} y2={top + tickLen} />
        </g>
      ))}
      {/* y ticks on left and right edges */}
      {p.ticks.map((t) => (
        <g key={`yt${t}`} stroke="#000" strokeWidth={1}>
          <line x1={plotLeft} x2={plotLeft + tickLen} y1={y(t)} y2={y(t)} />
          <line x1={plotRight} x2={plotRight - tickLen} y1={y(t)} y2={y(t)} />
        </g>
      ))}
      <rect x={plotLeft} y={top} width={plotRight - plotLeft} height={panelH} fill="none" stroke="#000" strokeWidth={1.4} />
      {p.ticks.map((t) => (
        <text key={`yl${t}`} x={plotLeft - 8} y={y(t)} dy="0.34em" textAnchor="end" fontSize={tickFont} fontFamily={FONT}>
          {fmt(t)}
        </text>
      ))}
      {isLast &&
        xTicks.map((t) => (
          <text key={`xl${t}`} x={x(t)} y={bottom + 25} textAnchor="middle" fontSize={tickFont} fontFamily={FONT}>
            {fmt(t)}
          </text>
        ))}
      <text
        transform={`translate(${p.labelX},${midY}) rotate(-90)`}
        textAnchor="middle"
        fontSize={labelFont}
        fontFamily={FONT}
      >
        {p.label}
      </text>
    </g>
  );
}

function Legend() {
  const bx = 114, by = 110, bw = 129, bh = 75;
  return (
    <g fontFamily={FONT}>
      <rect x={bx} y={by} width={bw} height={bh} fill="#fff" stroke="#000" strokeWidth={1.3} />
      <line x1={129} x2={203} y1={130.5} y2={130.5} stroke={RED} strokeWidth={1.2} />
      <text x={212} y={133.5} fontSize={18}>
        w<tspan dy={10.5} dx={2} fontSize={13}>x</tspan>
      </text>
      <line x1={129} x2={203} y1={164.5} y2={164.5} stroke={BLUE} strokeWidth={1.2} />
      <text x={212} y={167.5} fontSize={18}>
        w<tspan dy={10.5} dx={2} fontSize={13}>x</tspan>
      </text>
    </g>
  );
}

export default function App() {
  const bottomLast = panelTop0 + (panels.length - 1) * panelStep + panelH;
  return (
    <svg
      width={W}
      height={H}
      viewBox={`0 0 ${W} ${H}`}
      style={{ position: 'absolute', left: 0, top: 0, background: '#fff' }}
    >
      <rect x={0} y={0} width={W} height={H} fill="#fff" />
      {panels.map((p, i) => (
        <PanelView key={p.key} p={p} idx={i} />
      ))}
      <Legend />
      <text x={(plotLeft + plotRight) / 2} y={bottomLast + 51} textAnchor="middle" fontSize={labelFont} fontFamily={FONT}>
        x (m)
      </text>
    </svg>
  );
}
